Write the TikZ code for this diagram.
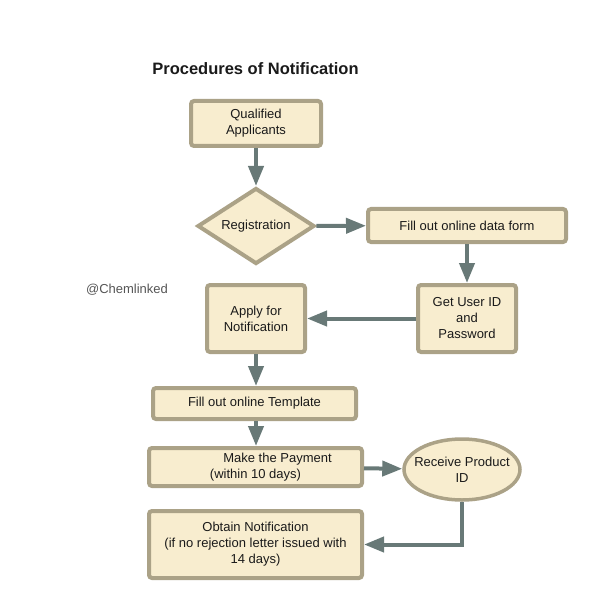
\documentclass[tikz,border=0pt]{standalone}
\usepackage{fontspec}
\setmainfont{Liberation Sans}
\usepackage{xcolor}
\usetikzlibrary{arrows.meta,shapes.geometric}
\definecolor{bordo}{HTML}{ABA287}
\definecolor{crema}{HTML}{F8EDCF}
\definecolor{freccia}{HTML}{687977}
\definecolor{testo}{HTML}{1A1A1A}
\definecolor{grigio}{HTML}{555555}

\begin{document}
\begin{tikzpicture}[x=1pt,y=-1pt,
            every node/.style={font=\fontsize{13}{16}\selectfont, text=testo},
            box/.style={draw=bordo, fill=crema, line width=4pt, rounded corners=3pt,
                inner sep=0pt, align=center},
            rombo/.style={diamond, draw=bordo, fill=crema, line width=4pt,
                inner sep=0pt, aspect=1.5, minimum width=117, minimum height=76},
            ovale/.style={ellipse, draw=bordo, fill=crema, line width=3.5pt,
                inner xsep=-9pt, inner ysep=6pt, align=center,
                minimum width=116, minimum height=61},
            link/.style={draw=freccia, line width=4pt,
                -{Triangle[length=20pt,width=15pt]}}]
        \useasboundingbox (0,0) rectangle (599,612);

        % Titolo
        \node[font=\fontsize{16.5}{19}\selectfont\bfseries] (titolo) at (255.5,69)
            {Procedures of Notification};
        \node[text=grigio] (firma) at (127,290) {@Chemlinked};

        % Blocchi
        \node[box, minimum width=130, minimum height=45] (qual) at (256,123.5)
            {Qualified\\Applicants};
        \node[rombo] (reg) at (256,226) {Registration};
        \node[box, minimum width=198, minimum height=33] (dati) at (467,225.5)
            {Fill out online data form};
        \node[box, minimum width=98, minimum height=67] (utente) at (467,318.5)
            {Get User ID\\and\\Password};
        \node[box, minimum width=98, minimum height=67] (domanda) at (256,318.5)
            {Apply for\\Notification};
        \node[box, minimum width=203, minimum height=31] (modello) at (254.5,403.5)
            {Fill out online Template};
        \node[box, minimum width=213, minimum height=38] (paga) at (255.5,467)
            {\hspace*{44pt}Make the Payment\\(within 10 days)};
        \node[ovale] (codice) at (462,469.5) {Receive Product\\ID};
        \node[box, minimum width=213, minimum height=67] (notifica) at (255.5,544.5)
            {Obtain Notification\\(if no rejection letter issued with\\14 days)};

        % Frecce
        \draw[link] (qual) -- (reg);
        \draw[link] (reg) -- (dati);
        \draw[link] (dati) -- (utente);
        \draw[link] (utente) -- (domanda);
        \draw[link] (domanda.south) -- (domanda.south |- modello.north);
        \draw[link] (domanda.south |- modello.south) -- (domanda.south |- paga.north);
        \draw[link] (paga) -- (codice);
        \draw[link] (codice.south) |- (notifica.east);
    \end{tikzpicture}
\end{document}
